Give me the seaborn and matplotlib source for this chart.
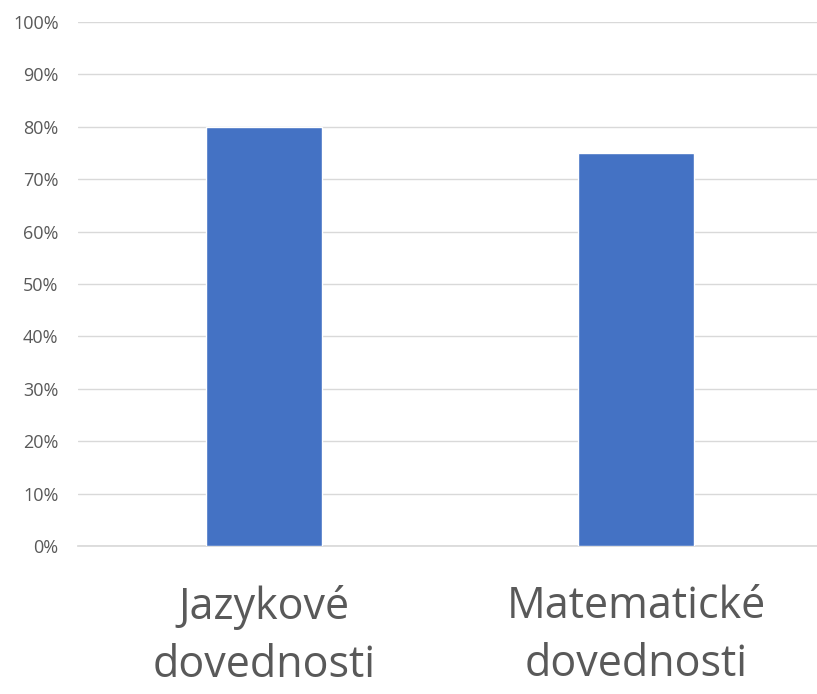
import matplotlib
matplotlib.use("Agg")
import matplotlib.pyplot as plt
import seaborn as sns
import pandas as pd
from matplotlib.ticker import PercentFormatter

# data
kategorie = ["Jazykové\ndovednosti", "Matematické\ndovednosti"]
hodnoty = [80, 75]

df = pd.DataFrame({"kategorie": kategorie, "hodnota": hodnoty})

sns.set_theme(style="white")
plt.rcParams['font.family'] = ['Open Sans', 'DejaVu Sans']

fig = plt.figure(figsize=(8.17, 6.94), dpi=100)
ax = fig.add_axes([78 / 817, 0.2133, 744 / 817, 0.755])

sns.barplot(data=df, x="kategorie", y="hodnota", color="#4472C4",
            width=0.312, saturation=1, ax=ax, zorder=3)

ax.set_ylim(0, 100)
ax.set_yticks(range(0, 101, 10))
ax.yaxis.set_major_formatter(PercentFormatter(decimals=0))
ax.grid(axis="y", color="#D9D9D9", linewidth=1, zorder=0)
ax.set_axisbelow(True)

for s in ["top", "right", "left"]:
    ax.spines[s].set_visible(False)
ax.spines["bottom"].set_color("#D9D9D9")

ax.tick_params(axis="y", labelsize=13, colors="#595959", length=0, pad=14)
ax.tick_params(axis="x", labelsize=31, colors="#595959", length=0, pad=28)
for lbl in ax.get_xticklabels():
    lbl.set_linespacing(1.4)

ax.set_xlabel("")
ax.set_ylabel("")

fig.savefig("out.png", dpi=100)
